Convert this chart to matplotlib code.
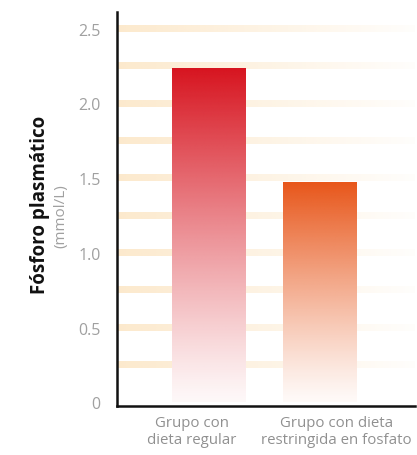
import numpy as np
import matplotlib.pyplot as plt
from matplotlib.colors import to_rgb

# data
groups = ['Grupo con\ndieta regular', 'Grupo con dieta\nrestringida en fosfato']
values = [2.23, 1.47]
bar_colors = ['#d7141f', '#e8561a']
yticks = [0, 0.5, 1.0, 1.5, 2.0, 2.5]
ytick_labels = ['0', '0.5', '1.0', '1.5', '2.0', '2.5']
stripe_levels = [0.25, 0.5, 0.75, 1.0, 1.25, 1.5, 1.75, 2.0, 2.25, 2.5]

plt.rcParams['font.family'] = ['Open Sans', 'DejaVu Sans']

fig = plt.figure(figsize=(4.17, 4.56), dpi=100)
ax = fig.add_axes([0.281, 0.107, 0.714, 0.864])

x = np.arange(len(groups))
xlim = (-0.824, 1.86)
ylim = (-0.025, 2.61)
ax.set_xlim(xlim)
ax.set_ylim(ylim)

# faded horizontal stripes
stripe_rgb = to_rgb('#fbdcae')
fade = np.zeros((1, 200, 4))
fade[..., :3] = stripe_rgb
fade[..., 3] = np.linspace(0.62, 0.04, 200)
for lev in stripe_levels:
    ax.imshow(fade, extent=(xlim[0], xlim[1], lev - 0.021, lev + 0.021),
              aspect='auto', interpolation='bilinear', zorder=1)

# bars with vertical gradient
bars = ax.bar(x, values, width=0.66, color='none', edgecolor='none', zorder=2)
for bar, col in zip(bars, bar_colors):
    rgb = np.array(to_rgb(col))
    t = np.linspace(0, 1, 256)[:, None]  # 0 bottom -> 1 top
    grad = np.zeros((256, 1, 4))
    grad[..., :3] = rgb
    grad[..., 3] = 0.03 + 0.97 * t ** 1.15
    bx, bw, bh = bar.get_x(), bar.get_width(), bar.get_height()
    ax.imshow(np.ones((1, 1, 3)), extent=(bx, bx + bw, 0, bh), aspect='auto', zorder=2.5)
    ax.imshow(grad, extent=(bx, bx + bw, 0, bh), origin='lower',
              aspect='auto', interpolation='bilinear', zorder=3)

ax.set_xlim(xlim)
ax.set_ylim(ylim)

ax.set_yticks(yticks)
ax.set_yticklabels(ytick_labels, color='#a0a0a0', fontsize=11.5)
ax.tick_params(axis='both', length=0)
ax.tick_params(axis='y', pad=12)

# category labels, pushed slightly apart from the bar centres
ax.set_xticks([])
shift = [-0.15, 0.15]
for xi, lab, dx in zip(x, groups, shift):
    ax.text(xi + dx, -0.022, lab, transform=ax.get_xaxis_transform(),
            ha='center', va='top', fontsize=10.8, color='#909090', linespacing=1.15)

for s in ['top', 'right']:
    ax.spines[s].set_visible(False)
for s in ['left', 'bottom']:
    ax.spines[s].set_linewidth(1.8)
    ax.spines[s].set_color('#111111')
    ax.spines[s].set_zorder(5)

fig.text(0.096, 0.55, 'Fósforo plasmático', rotation=90, ha='center', va='center',
         fontsize=13.5, fontweight='bold', color='#111111')
fig.text(0.146, 0.525, '(mmol/L)', rotation=90, ha='center', va='center',
         fontsize=11, color='#a0a0a0')

fig.savefig('out.png', dpi=100)
